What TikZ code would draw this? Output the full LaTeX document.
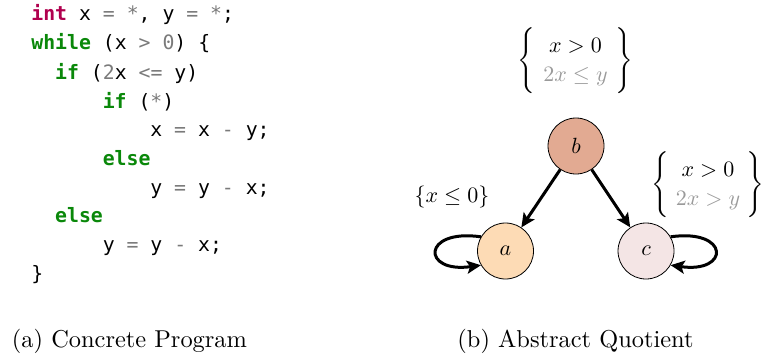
\documentclass[tikz,border=0pt]{standalone}
\usepackage{fontspec}
\usepackage{graphicx}
\setmonofont{DejaVu Sans Mono}
\usetikzlibrary{arrows.meta}
\definecolor{intcol}{HTML}{B0004E}
\definecolor{kwcol}{HTML}{0A880A}
\definecolor{opcol}{HTML}{7A7A7A}
\definecolor{mgray}{HTML}{9A9A9A}
\definecolor{bfill}{HTML}{E2AA92}
\definecolor{afill}{HTML}{FDDBB5}
\definecolor{cfill}{HTML}{F4E5E5}
\newcommand{\kwd}[1]{{\bfseries\color{kwcol}#1}}
\newcommand{\tyk}[1]{{\bfseries\color{intcol}#1}}
\newcommand{\opk}[1]{{\color{opcol}#1}}
\begin{document}
\begin{tikzpicture}[x=0.5pt,y=0.5pt,
  codeline/.style={anchor=base west,inner sep=0pt,font=\fontsize{9.9}{12}\ttfamily},
  capt/.style={anchor=base,inner sep=0pt},
  st/.style={circle,draw=black,line width=0.4pt,minimum size=28pt,inner sep=0pt},
  edge/.style={line width=1.5pt,-{Stealth[length=7pt,width=6.5pt,inset=1.5pt]}},
  lab/.style={inner sep=0pt}]
\useasboundingbox (0,0) rectangle (763,-358);
% code
\node[codeline] (l1) at (31,-21) {\tyk{int} x \opk{=} \opk{*}, y \opk{=} \opk{*};};
\node[codeline] (l2) at (31,-50) {\kwd{while} (x \opk{>} \opk{0}) \{};
\node[codeline] (l3) at (54.8,-79) {\kwd{if} (\opk{2}x \opk{<=} y)};
\node[codeline] (l4) at (102.4,-108) {\kwd{if} (\opk{*})};
\node[codeline] (l5) at (150,-136) {x \opk{=} x \opk{-} y;};
\node[codeline] (l6) at (102.4,-165) {\kwd{else}};
\node[codeline] (l7) at (150,-194) {y \opk{=} y \opk{-} x;};
\node[codeline] (l8) at (54.8,-222) {\kwd{else}};
\node[codeline] (l9) at (102.4,-251) {y \opk{=} y \opk{-} x;};
\node[codeline] (l10) at (31,-280) {\}};
% captions
\node[capt] (capa) at (129.5,-347) {\scalebox{1.22}{(a) Concrete Program}};
\node[capt] (capb) at (575.5,-347) {\scalebox{1.22}{(b) Abstract Quotient}};
% states
\node[st,fill=bfill] (b) at (576,-146) {\scalebox{1.1}{$b$}};
\node[st,fill=afill] (a) at (505.5,-251) {\scalebox{1.1}{$a$}};
\node[st,fill=cfill] (c) at (646,-251) {\scalebox{1.1}{$c$}};
\draw[edge] (b) -- (a);
\draw[edge] (b) -- (c);
\draw[edge] (a.150) .. controls +(172:60) and +(188:60) .. (a.210);
\draw[edge] (c.30) .. controls +(8:60) and +(-8:60) .. (c.-30);
% labels
\node[lab] (lb) at (575.5,-61) {\scalebox{1.1}{\setlength{\arraycolsep}{3.5pt}\renewcommand{\arraystretch}{1.13}$\left\{\begin{array}{c} x>0\\ \color{mgray}2x\le y\end{array}\right\}$}};
\node[lab] (lc) at (708,-185) {\scalebox{1.1}{\setlength{\arraycolsep}{3pt}\renewcommand{\arraystretch}{1.13}$\left\{\begin{array}{c} x>0\\ \color{mgray}2x> y\end{array}\right\}$}};
\node[lab] (la) at (452,-197) {\scalebox{1.1}{$\{x\le 0\}$}};
\end{tikzpicture}
\end{document}
